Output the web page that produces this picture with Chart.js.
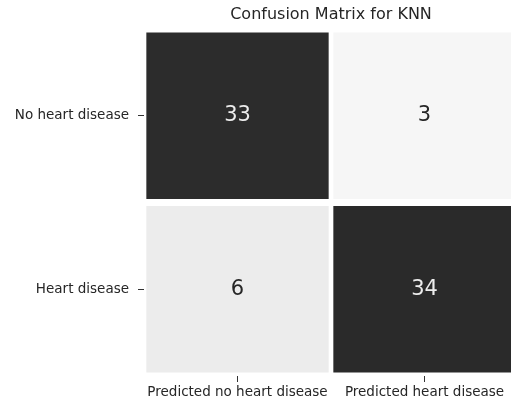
<!DOCTYPE html>
<html>
<head>
<meta charset="utf-8">
<script src="https://cdn.jsdelivr.net/npm/chart.js@4"></script>
<style>
  html, body { margin: 0; padding: 0; background: #fff; overflow: hidden; }
  #wrap { width: 518px; height: 401px; }
</style>
</head>
<body>
<div id="wrap"><canvas id="cm"></canvas></div>
<script>
  // confusion matrix data
  const chartTitle = "Confusion Matrix for KNN";
  const predictedLabels = ["Predicted no heart disease", "Predicted heart disease"];
  const actualLabels = ["No heart disease", "Heart disease"];
  const counts = [
    [33, 3],
    [6, 34]
  ];
  // cell shades (grey colormap)
  const cellColors = [
    ["#2c2c2c", "#f6f6f6"],
    ["#ececec", "#2a2a2a"]
  ];

  const rows = actualLabels.length;
  const gap = 0.02;

  // one floating-bar dataset per actual row, row 0 on top
  const datasets = actualLabels.map((label, r) => ({
    label,
    data: counts[r].map(() => [rows - r - 1 + gap, rows - r - gap]),
    backgroundColor: cellColors[r],
    borderWidth: 0,
    grouped: false,
    barPercentage: 0.975,
    categoryPercentage: 1
  }));

  const cellText = {
    id: "cellText",
    afterDatasetsDraw(chart) {
      const ctx = chart.ctx;
      ctx.save();
      ctx.textAlign = "center";
      ctx.textBaseline = "middle";
      ctx.font = "21px 'DejaVu Sans'";
      chart.data.datasets.forEach((ds, r) => {
        chart.getDatasetMeta(r).data.forEach((bar, c) => {
          const v = counts[r][c];
          ctx.fillStyle = v > 17 ? "#ececec" : "#262626";
          ctx.fillText(String(v), bar.x, (bar.y + bar.base) / 2);
        });
      });
      // title centred over the plot area
      const area = chart.chartArea;
      ctx.font = "16px 'DejaVu Sans'";
      ctx.fillStyle = "#262626";
      ctx.fillText(chartTitle, (area.left + area.right) / 2, 15);
      ctx.restore();
    }
  };

  new Chart(document.getElementById("cm"), {
    type: "bar",
    data: { labels: predictedLabels, datasets },
    options: {
      responsive: true,
      maintainAspectRatio: false,
      animation: false,
      layout: { padding: { top: 29, right: 0, bottom: 0, left: 0 } },
      plugins: {
        legend: { display: false },
        tooltip: { enabled: false }
      },
      scales: {
        x: {
          afterFit: axis => { axis.height = 25; },
          grid: { display: true, drawOnChartArea: false, drawTicks: true, tickLength: 6, color: "#333", offset: false },
          border: { display: false },
          ticks: { color: "#262626", font: { family: "DejaVu Sans", size: 13.5 }, padding: 2, maxRotation: 0 }
        },
        y: {
          min: 0,
          max: rows,
          afterFit: axis => { axis.width = 144; },
          afterBuildTicks: axis => {
            axis.ticks = actualLabels.map((l, r) => ({ value: rows - r - 0.5 }));
          },
          grid: { display: true, drawOnChartArea: false, drawTicks: true, tickLength: 6, color: "#333" },
          border: { display: false },
          ticks: {
            color: "#262626",
            font: { family: "DejaVu Sans", size: 13.5 },
            padding: 9,
            callback: value => actualLabels[Math.round(rows - 0.5 - value)]
          }
        }
      }
    },
    plugins: [cellText]
  });
</script>
</body>
</html>
